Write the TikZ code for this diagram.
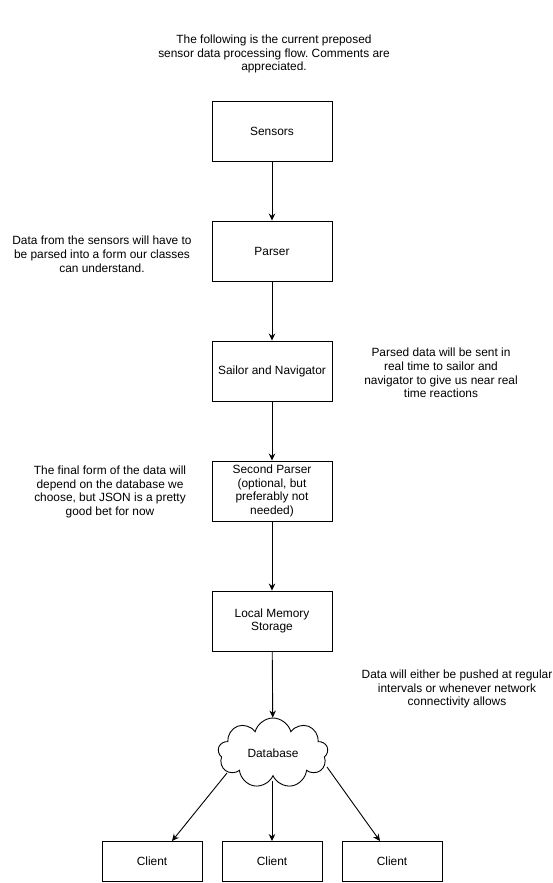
\documentclass[tikz,border=0pt]{standalone}
\usepackage{fontspec}
\setmainfont{Liberation Sans}
\usetikzlibrary{shapes.symbols,arrows.meta,calc}
\frenchspacing

\begin{document}
\begin{tikzpicture}[x=1pt, y=-1pt,
	every node/.style={font=\fontsize{11.9}{13.8}\selectfont},
	box/.style={draw, line width=0.9pt, minimum width=120pt, minimum height=60pt, align=center, inner sep=2pt},
	client/.style={draw, line width=0.9pt, minimum width=100pt, minimum height=40pt},
	note/.style={align=center},
	flow/.style={-{Stealth[length=7pt,width=6.5pt]}, line width=0.9pt}]
%
\useasboundingbox (0,0) rectangle (553,883);

\def \bx {272}
\def \dy {120}

%Koordinaten
\coordinate (origin) at (\bx,131);

%Boxes
	\node [note] (title) at (274,54) {The following is the current preposed\\sensor data processing flow. Comments are\\appreciated.};

	\node [box] (sensors) at (origin) {Sensors};
	\node [box] (parser) at ($(origin)+(0,\dy)$) {Parser};
	\node [box] (sailor) at ($(origin)+(0,2*\dy)$) {Sailor and Navigator};
	\node [box] (second) at ($(origin)+(0,3*\dy)$) {Second Parser\\(optional, but\\preferably not\\needed)};
	\node [box] (memory) at ($(origin)+(0,3*\dy+130)$) {Local Memory\\Storage};

	\node [cloud, draw, line width=0.9pt, cloud puffs=9, aspect=1.6, minimum width=110pt, minimum height=70pt, inner sep=0pt] (db) at (273,753) {Database};

	\foreach \i/\x in {1/152, 2/272, 3/392}{
		\node [client] (cl\i) at (\x,861.5) {Client};
	}

%Notes
	\node [note] (noteParser) at (102,254) {Data from the sensors will have to\\be parsed into a form our classes\\can understand.};
	\node [note] (noteSailor) at (441,373) {Parsed data will be sent in\\real time to sailor and\\navigator to give us near real\\time reactions};
	\node [note] (noteSecond) at (110,492) {The final form of the data will\\depend on the database we\\choose, but JSON is a pretty\\good bet for now};
	\node [note] (noteMemory) at (457,689) {Data will either be pushed at regular\\intervals or whenever network\\connectivity allows};

%Pfeile
	\draw [flow] (sensors) -- (parser);
	\draw [flow] (parser) -- (sailor);
	\draw [flow] (sailor) -- (second);
	\draw [flow] (second) -- (memory);
	\draw [flow] (memory) -- (db);

	\coordinate (dbL) at ($(db.center)+(-46,20)$);
	\coordinate (dbM) at ($(db.center)+(-1,28)$);
	\coordinate (dbR) at ($(db.center)+(54,14)$);

	\draw [flow] (dbL) -- ($(cl1.north)+(20,0)$);
	\draw [flow] (dbM) -- (cl2);
	\draw [flow] (dbR) -- ($(cl3.north)+(-12,0)$);

\end{tikzpicture}
\end{document}
